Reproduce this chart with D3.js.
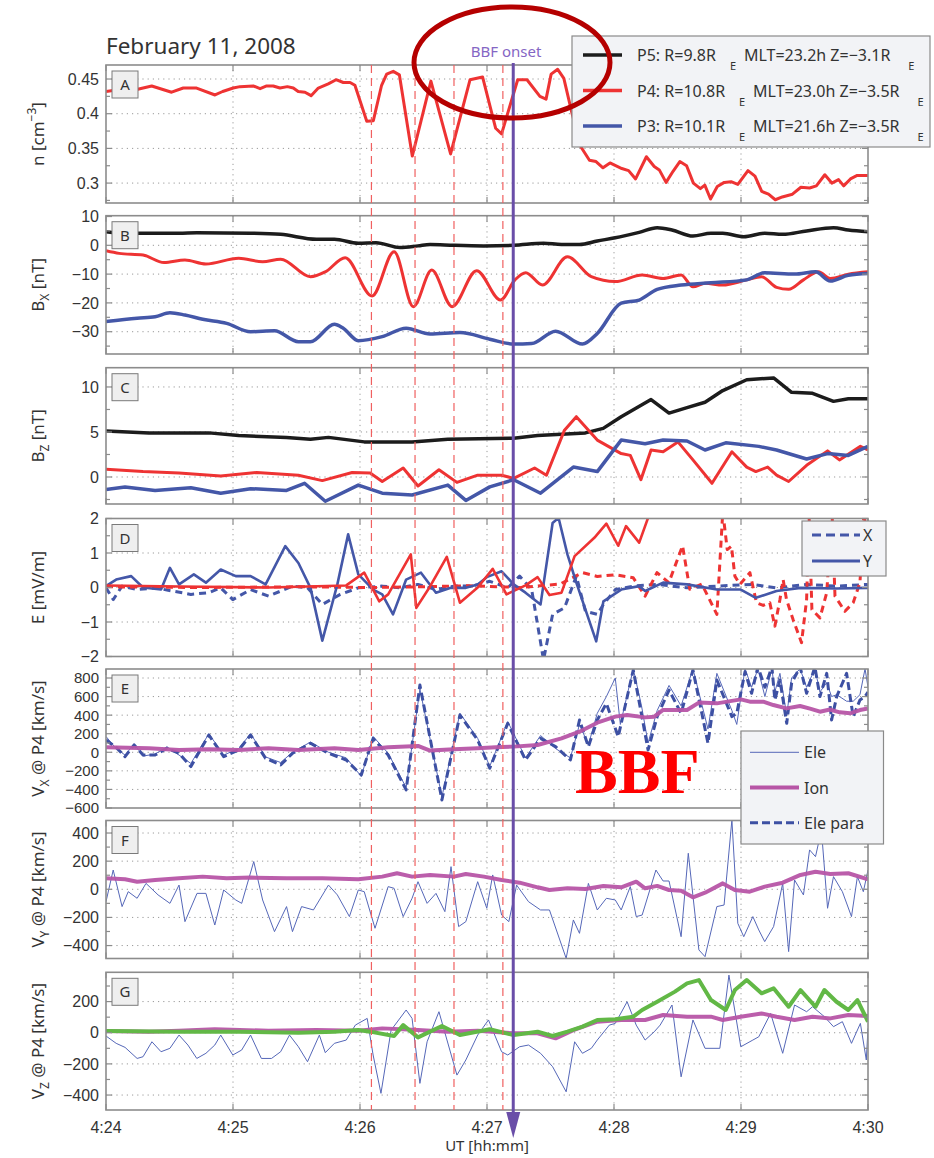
<!DOCTYPE html>
<html><head><meta charset="utf-8">
<script src="https://cdn.jsdelivr.net/npm/d3@7"></script>
<style>body{margin:0;background:#fff}svg{display:block}text{font-family:"Noto Sans","Open Sans",sans-serif;fill:#333}text.tick{font-family:"Liberation Sans",Arial,sans-serif}</style>
</head><body><svg id="c" width="934" height="1158"></svg>
<script>
// ---------------- DATA (time = seconds after 4:24:00 UT) ----------------
const xTickSec = [0,60,120,180,240,300,360];
const xTickLabels = ["4:24","4:25","4:26","4:27","4:28","4:29","4:30"];
const eventSec = [125.4,146,164.4,187.5];
const onsetSec = 192.4;

// Panel A: density P4
const nP4_t = [0,6.6,14.5,21.6,31,36.5,42.8,51.5,55.1,60.1,63.3,69.6,72.8,75.9,79,82.2,85.7,88.5,90.8,94,96.9,100.3,105,108.7,112.1,115.3,117.6,123.2,126.3,130.2,132.6,135.7,138.6,144.7,153.5,162.8,172,177.9,184.1,186.9,194.5,198.9,205,207.9,210.3,213.4,216.3,220.2,224.4,228.4,231.5,234.8,238.1,243.7,246.9,250.2,255.3,259,261.4,264.6,267.9,271.1,274.3,277.5,280.8,282.9,285.6,288.8,292.1,295.3,298.5,303.3,306.6,309.8,313,316.2,319.5,324.3,328.3,332.4,335.6,339.6,342.9,346.1,348.5,351.7,354.9,358.9,360];
const nP4_v = [0.432,0.435,0.435,0.440,0.431,0.437,0.437,0.427,0.432,0.437,0.439,0.440,0.436,0.440,0.440,0.437,0.439,0.437,0.432,0.431,0.426,0.437,0.443,0.449,0.445,0.445,0.441,0.389,0.390,0.441,0.457,0.461,0.456,0.339,0.447,0.342,0.449,0.453,0.379,0.371,0.449,0.449,0.425,0.421,0.457,0.464,0.451,0.40,0.352,0.333,0.331,0.322,0.329,0.321,0.318,0.306,0.338,0.324,0.319,0.301,0.317,0.331,0.325,0.300,0.292,0.297,0.277,0.295,0.301,0.302,0.298,0.318,0.310,0.288,0.284,0.276,0.280,0.284,0.294,0.293,0.296,0.312,0.300,0.305,0.296,0.306,0.311,0.311,0.311];

// Panel B: Bx
const bxP5_t = [0,6.2,34.5,42.9,68.3,82.5,99.4,107.9,119.2,127.6,138.9,147.4,153.1,164.4,178.5,192.6,206.7,215.2,223.7,232.1,240.6,251.9,260.4,267.4,277.3,285.8,291.4,301.3,311.2,319.7,331,343.7,350.7,360];
const bxP5_v = [4.7,4.2,4.2,4.4,4.2,3.8,2.1,2.1,0.7,0.9,-0.8,-0.2,0.3,0,-0.2,0,0.7,0.3,0.3,1.5,2.6,4.5,6.1,5.3,3.2,4.2,4.2,3.0,4.2,3.8,5.0,6.1,5.3,4.7];
const bxP4_t = [0,6.2,17.5,27.4,37.3,47.2,62.7,74,82.5,96.6,103.6,113,125.7,136.1,145.2,153.9,163.5,175.1,186.4,193.2,198.3,206.2,218,229.3,240.6,253.3,263.2,271.7,277.3,283,291.4,302.7,309.7,316.8,322.5,329.5,336.6,342.2,350.7,360];
const bxP4_v = [-1.9,-2.8,-3.4,-6.0,-5.1,-6.5,-4.5,-5.7,-4.8,-10.9,-9.2,-4.3,-17.6,-2.2,-21.3,-8.6,-21.3,-8.8,-19.0,-12.0,-9.5,-13.8,-4.0,-10.9,-12.6,-10.3,-11.5,-10.3,-14.4,-13.2,-13.8,-12.0,-10.9,-14.6,-15.3,-12.0,-9.2,-11.5,-10.0,-9.2];
const bxP3_t = [0,14.7,23.2,30.2,37.3,45.7,57,68.3,79.6,90.9,96.6,107.9,112.1,119.2,130.5,141.8,153.1,167.2,181.3,192.6,201.1,212.4,225.1,232.1,243.4,251.9,260.4,271.7,285.8,302.7,311.2,325.3,335.2,342.2,350.7,360];
const bxP3_v = [-26.5,-25.3,-24.8,-23.4,-24.2,-25.7,-27.1,-30.0,-29.7,-33.5,-33.5,-27.4,-28.8,-33.1,-31.7,-28.8,-30.8,-30.3,-32.6,-34.3,-34.1,-29.8,-34.3,-30.6,-20.1,-19.0,-15.3,-13.8,-13.0,-12.0,-9.5,-10.0,-9.2,-12.4,-10.4,-9.8];

// Panel C: Bz
const bzP5_t = [0,20.3,48.6,62.7,85.3,96.6,105.1,122,144.6,161.5,192.6,203.9,226.5,234.9,243.4,257.5,266,274.5,283,291.4,302.7,315.4,323.9,333.8,343.7,350.7,360];
const bzP5_v = [5.1,4.9,4.9,4.6,4.4,4.2,4.4,3.9,3.9,4.2,4.3,4.6,4.9,5.4,6.7,8.6,7.1,7.7,8.3,9.6,10.8,11.0,9.4,9.3,8.4,8.7,8.7];
const bzP4_t = [0,17.5,34.5,54.2,71.2,90.9,102.2,116.3,124.8,130.5,140.4,147.4,157.3,165.8,175.6,186.9,192.6,202.5,208.1,216.6,222.2,232.1,243.4,247.7,252.7,257.5,263.2,270.2,277.3,286.3,295.7,302.7,307,312.6,316.8,322.5,331,340.9,346.5,356.4,360];
const bzP4_v = [0.85,0.6,0.45,0.1,0.5,0.2,-0.4,0.5,0.45,-0.5,1.0,-1.0,0.8,-0.6,0.2,0.2,-0.15,1.0,0.2,5.2,6.7,4.1,2.6,2.4,-0.3,3.0,2.8,3.9,1.9,-0.7,2.8,1.1,0.6,1.1,0.2,-0.5,1.3,2.9,1.9,3.4,3.0];
const bzP3_t = [0,9,23.2,40.1,54.2,68.3,85.3,93.8,103.6,119.2,130.5,144.6,161.5,170,181.3,192.6,205.3,220.8,232.1,243.4,254.7,263.2,274.5,283,292.8,308.4,316.8,331,340.9,350.7,360];
const bzP3_v = [-1.4,-1.1,-1.5,-1.2,-1.8,-1.3,-1.5,-0.7,-2.7,-0.9,-1.8,-2.0,-0.9,-2.6,-1.1,-0.3,-1.8,1.1,0.6,4.1,3.7,4.1,4.0,3.0,3.8,3.4,3.0,2.0,2.6,2.4,3.4];

// Panel D: E field (Y solid, X dashed)
const eyP4_t = [0,34.5,76.8,113.5,122,129.1,133.3,144,146.6,153.1,161,167.2,175.6,182.7,189.2,198.2,203.9,209.5,215.2,221.4,230.7,236.4,242,245.7,251.9,256.1,263.2,360];
const eyP4_v = [0.06,0.03,0.0,0.06,0.43,-0.4,-0.2,0.96,-0.59,0.03,0.89,-0.44,0.0,0.54,-0.2,0.06,0.3,-0.22,-0.15,0.91,1.44,1.85,1.21,1.78,1.3,2.02,2.6,2.8];
const exP4_t = [0,44.4,91.6,124.7,148.3,171.9,195.6,214.5,225.1,232.1,240.6,249.1,254.7,260.3,265.9,272.4,275.8,281.5,288.6,291.4,293.5,295.5,297.1,299.5,304.2,307.3,310.5,313.6,316,318.4,319.9,321.5,324.6,328.6,331,332.1,333.5,337.3,340.5,343,344.4,349.1,353,356.2,358.1,360];
const exP4_v = [0.02,0.0,0.02,0.0,0.02,0.05,0.0,0.1,0.43,0.32,0.37,0.28,-0.25,0.43,0.14,1.21,-0.05,0.1,-0.78,2.2,1.1,1.2,0.33,0.09,0.43,-0.44,-0.52,-0.44,-1.12,-0.35,0.23,-0.35,-0.93,-1.6,-0.35,2.2,-0.64,-0.88,-0.15,2.2,-0.25,-0.69,-0.44,0.14,2.2,1.0];
const eyP3_t = [0,4.8,11.9,17.5,26,30.2,34.5,41.5,47.2,54.2,61.3,68.3,75.4,84.7,90.9,96.6,102.2,109.3,114.4,119.2,126.2,130.5,135.6,141.8,148.8,155.9,162.9,170,175.6,179.9,186.9,192.6,198.2,205.3,211,213.8,218,222.2,231.6,235,243.4,251.9,254.7,263.2,274.5,288.6,299.9,307,316.8,328.1,345.1,360];
const eyP3_v = [0.04,0.23,0.33,0.0,-0.06,0.57,0.09,0.38,0.14,0.52,0.33,0.33,0.09,1.2,0.71,-0.01,-1.54,0.09,1.54,0.38,-0.06,-0.2,-0.78,0.23,0.43,-0.15,-0.01,-0.01,0.09,0.3,0.47,0.09,-0.15,-0.49,1.87,2.02,0.96,0.14,-1.56,-0.4,-0.06,0.04,-0.1,0.14,0.09,-0.06,-0.06,-0.3,-0.1,-0.01,-0.03,-0.01];
const exP3_t = [0,3.4,7.6,14.7,23.2,40.1,48.6,54.2,59.9,68.3,76.8,88.1,95.2,102.2,110.7,119.2,130.5,138.9,147.4,155.9,164.4,172.8,181.3,189.8,195.4,201.1,206.7,211,216.6,222.2,226.5,232.1,235,240.6,249.1,260.4,274.5,288.6,305.6,316.8,331,345.1,360];
const exP3_v = [-0.01,-0.35,0.04,-0.06,-0.01,-0.2,-0.15,-0.01,-0.35,-0.06,-0.25,0.04,-0.01,-0.49,-0.2,-0.01,0.04,-0.01,0.09,-0.06,0.04,0.04,0.18,-0.01,0.33,-0.06,-2.1,-0.78,-0.59,0.33,-0.69,-0.78,-0.49,-0.06,0.04,0.09,-0.01,0.04,0.09,-0.01,0.09,0.04,0.09];

// Panel E: Vx at P4
const vxIon_t = [0,20.3,34.5,48.6,62.7,76.8,90.9,107.9,119.2,133.3,147.4,153.1,164.4,175.6,184.1,192.6,203.9,215.2,223.7,232.1,240.6,246.2,254.7,259,263.2,274.5,280.1,288.6,299.9,304.2,310.5,315.3,321.5,327.9,332.6,337.3,342,346.7,351.5,356.2,360];
const vxIon_v = [53,43,25,32,25,43,25,43,25,53,68,18,32,43,53,61,79,150,222,319,384,401,376,384,456,456,535,527,570,545,545,509,473,498,470,437,460,430,420,455,473];
const vxPara_t = [0,4.8,9,13.3,17.5,23.2,28.8,34.5,40.1,48.6,55.6,62.7,68.3,75.4,82.5,88.1,96.6,105.1,113.5,120.6,126.2,133.3,141.8,148.3,158.7,167.2,175.6,181.3,189.8,198.2,205.3,212.4,219.4,223.7,227.9,232.1,236.4,242,249.1,256.1,260.4,266,271.7,277.3,284.4,288.6,295.7,298,301.9,305,308,311.3,314.6,316,318.4,321.6,323.9,327.9,331,334.9,337.3,340.5,342.8,345.2,349.9,353,356.2,358.6,360];
const vxPara_v = [132,53,-47,79,-29,-29,43,-11,-154,186,-47,25,186,-65,-136,-11,97,-11,-83,-244,150,-29,-405,724,-513,401,132,-172,312,-83,150,61,-83,348,61,348,527,168,886,25,384,670,420,886,97,778,384,420,868,635,920,700,920,563,778,312,743,920,635,920,600,850,348,599,850,383,563,599,650];
const vxEle_t = [0,4.8,9,13.3,17.5,23.2,28.8,34.5,40.1,48.6,55.6,62.7,68.3,75.4,82.5,88.1,96.6,105.1,113.5,120.6,126.2,133.3,141.8,148.3,158.7,167.2,175.6,181.3,189.8,198.2,205.3,212.4,219.4,223.7,227.9,232.1,236.4,240.6,243,249.1,253,256.1,260.4,266,271.7,277.3,284.4,288.6,295.7,298,301.9,305,308,311.3,314.6,316,318.4,321.6,323.9,327.9,331,334.9,337.3,340.5,342.8,345.2,349.9,353,356.2,358.6,360];
const vxEle_v = [170,40,-30,90,-40,-20,60,-30,-120,200,-30,40,200,-50,-110,0,110,0,-60,-260,170,-10,-380,680,-480,420,150,-150,330,-60,180,40,-60,300,80,420,600,800,300,900,500,100,450,720,500,900,250,850,450,300,900,700,900,600,900,650,850,400,800,900,700,900,650,750,600,620,550,550,620,900,700];

// Panel F: Vy at P4
const vyIon_t = [0,9,14.7,23.2,34.5,45.7,57,68.3,85.3,102.2,119.2,130.5,137.5,144.6,153.1,164.4,170,178.5,186.9,195.4,203.9,209.5,218,226.5,235,243.4,250.5,254.7,260.4,266,271.7,277.3,283,291.4,297.1,304.1,311.2,319.7,328.1,335.2,342.2,350.7,360];
const vyIon_v = [78,71,54,66,78,90,78,83,78,78,71,90,114,90,102,90,109,90,66,47,14,-5,7,2,24,14,54,7,24,-5,-10,-57,-24,42,-5,-17,19,47,102,125,109,114,71];
const vyEle_t = [0,3.4,7.6,10.5,14.7,18.9,24.6,30.2,34.5,37.3,43,47.2,51.4,55.6,61.3,64.1,69.8,74,79.6,85.3,88.1,92.4,98,105.1,109.3,115,119.2,122,127.1,133.3,136.1,140.4,144.6,147.4,151.7,155.9,160.1,163,166.6,170,175.6,179.9,182.7,186.9,190.3,194,199.6,205.3,209.5,217.4,220.8,223.7,227.9,232.1,236.4,240.6,243.4,247.7,250.5,253.3,259.8,263.2,266,271.7,275.1,280.1,283,288.6,292,295.7,298.5,301.3,305.6,308.4,311.2,315.4,319.7,322.5,325.3,329.5,332.4,335.2,338,340.9,343.7,347.9,352.2,355,357.8,360];
const vyEle_v = [-88,137,-123,-17,-64,42,-40,-100,30,-230,-29,-29,-254,-5,-76,-100,197,-76,-301,-123,-301,-123,-147,30,-40,-194,-5,-17,-277,19,7,-194,-64,54,-100,-29,-159,161,-265,-230,54,-135,102,-183,-230,30,-88,-147,-147,-491,-218,-313,42,-147,-64,-76,-147,19,-194,-183,137,59,59,-337,256,-431,-479,-123,-112,493,-242,-337,-194,-289,-372,-265,42,-443,66,-40,280,232,422,-135,90,-17,-194,90,-17,137];

// Panel G: Vz at P4
const vzGreen_t = [0,34.5,62.7,90.9,107.9,119.2,124.8,136.1,140.4,147.4,158.7,167.2,181.3,192.6,203.9,211,218,225.1,232.1,240.6,249.1,253.3,260.4,268.8,274.5,280.1,285.8,292.8,297.1,302.7,309.7,315.4,322.5,328.1,335.2,339.4,345.1,350.7,355,360];
const vzGreen_v = [11,7,7,0,7,17,7,-21,49,-30,43,-15,22,-15,7,-21,7,39,82,86,103,146,199,264,317,338,210,146,274,338,253,285,167,274,167,274,199,146,210,71];
const vzIon_t = [0,20.3,34.5,51.4,76.8,99.4,119.2,130.5,147.4,161.5,175.6,192.6,203.9,212.4,220.8,232.1,243.4,254.7,263.2,274.5,285.8,291.4,299.9,309.7,316.8,325.3,333.8,342.2,350.7,360];
const vzIon_v = [11,7,13,22,13,17,13,28,17,7,13,-4,-4,-36,17,71,82,82,114,103,103,82,103,124,103,82,103,92,114,107];
const vzEle_t = [0,4.8,9,14.7,17.5,21.7,26,30.2,34.5,38.7,42.9,47.2,51.4,54.2,59.9,64.1,68.3,73.4,78.2,82.5,86.7,90.9,95.2,100.8,103.6,107.9,113.5,117.8,123.4,126.2,129.9,134.7,141.8,144.6,148.3,151.7,157.3,165.8,170,175.6,180.7,186.9,189.8,195.4,199.6,205.3,211,217.4,221.4,225.1,229.3,232.1,237.8,240.6,246.2,250.5,254.7,259,261.8,267.4,271.7,277.3,283,290,294.3,299.9,305.6,308.4,314,319.7,325.3,331,333.8,339.4,343.7,347.9,352.2,356.4,359.2,360];
const vzEle_v = [-21,-68,-94,-165,-154,-58,-122,-100,-15,-79,-165,-132,-79,-15,-143,-111,-15,-165,-165,-122,-15,-90,-186,-15,-128,-68,-47,49,92,-143,-389,17,146,92,-325,-58,135,-272,-175,-15,82,-122,-143,-90,-79,-132,-218,-379,-58,-132,-100,-47,49,60,199,49,-47,6,49,178,-283,82,-100,-100,370,-90,-47,-26,124,-132,178,135,167,103,39,71,-68,60,-175,28];

// tick values
const yTicksA = [0.3,0.35,0.4,0.45], yMinorA = [0.275,0.325,0.375,0.425];
const yTicksB = [-30,-20,-10,0,10], yMinorB = [-35,-25,-15,-5,5];
const yTicksC = [0,5,10], yMinorC = [-2.5,2.5,7.5];
const yTicksD = [-2,-1,0,1,2], yMinorD = [-1.5,-0.5,0.5,1.5];
const yTicksE = [-600,-400,-200,0,200,400,600,800], yMinorE = [-500,-300,-100,100,300,500,700];
const yTicksF = [-400,-200,0,200,400], yMinorF = [-300,-100,100,300];
const yTicksG = [-400,-200,0,200], yMinorG = [-300,-100,100,300];

const legendA = [
  {name:"P5: R=9.8R", sub:"E", rest:"MLT=23.2h Z=\u22123.1R", color:"#1c1c1c"},
  {name:"P4: R=10.8R", sub:"E", rest:"MLT=23.0h Z=\u22123.5R", color:"#ee3333"},
  {name:"P3: R=10.1R", sub:"E", rest:"MLT=21.6h Z=\u22123.5R", color:"#4457a8"}
];
const legendD = ["X","Y"];
const legendE = ["Ele","Ion","Ele para"];

// ---------------- DRAWING ----------------
const svg = d3.select("#c");
const X0 = 106, X1 = 868;
const x = d3.scaleLinear().domain([0,360]).range([X0,X1]);
const zip = (t,v)=>t.map((d,i)=>[d,v[i]]);
const fmt = v => String(v).replace("-", "\u2212");

const COL = {black:"#1c1c1c", red:"#ee3333", blue:"#4457a8", mag:"#b755a6", green:"#62b846", thin:"#5567b8"};

const panels = [
 {id:"A", top:65, bot:203, dom:[0.2713,0.4702], ticks:yTicksA, minor:yMinorA,
  title:[["n [cm",0],["\u22123",-1],["]",0]], curve:d3.curveLinear,
  series:[{d:zip(nP4_t,nP4_v), c:COL.red, w:3}]},
 {id:"B", top:215.7, bot:354, dom:[-37.74,10.28], ticks:yTicksB, minor:yMinorB,
  title:[["B",0],["X",1],[" [nT]",0]], curve:d3.curveMonotoneX,
  series:[{d:zip(bxP5_t,bxP5_v), c:COL.black, w:3.5},{d:zip(bxP4_t,bxP4_v), c:COL.red, w:3},{d:zip(bxP3_t,bxP3_v), c:COL.blue, w:3.5}]},
 {id:"C", top:367.7, bot:504, dom:[-3.0,12.14], ticks:yTicksC, minor:yMinorC,
  title:[["B",0],["Z",1],[" [nT]",0]], curve:d3.curveLinear,
  series:[{d:zip(bzP5_t,bzP5_v), c:COL.black, w:3.5},{d:zip(bzP4_t,bzP4_v), c:COL.red, w:3},{d:zip(bzP3_t,bzP3_v), c:COL.blue, w:3.5}]},
 {id:"D", top:518.5, bot:656.5, dom:[-2,2], ticks:yTicksD, minor:yMinorD,
  title:[["E [mV/m]",0]], curve:d3.curveLinear,
  series:[{d:zip(exP3_t,exP3_v), c:COL.blue, w:3, dash:"7,5"},{d:zip(exP4_t,exP4_v), c:COL.red, w:3, dash:"7,5"},
          {d:zip(eyP3_t,eyP3_v), c:COL.blue, w:2.6},{d:zip(eyP4_t,eyP4_v), c:COL.red, w:2.6}]},
 {id:"E", top:669, bot:808, dom:[-600,897], ticks:yTicksE, minor:yMinorE,
  title:[["V",0],["X",1],[" @ P4 [km/s]",0]], curve:d3.curveLinear,
  series:[{d:zip(vxEle_t,vxEle_v), c:COL.thin, w:1},{d:zip(vxPara_t,vxPara_v), c:"#3d50a3", w:3, dash:"8,4"},{d:zip(vxIon_t,vxIon_v), c:COL.mag, w:4}]},
 {id:"F", top:820.5, bot:958.5, dom:[-492,489], ticks:yTicksF, minor:yMinorF,
  title:[["V",0],["Y",1],[" @ P4 [km/s]",0]], curve:d3.curveLinear,
  series:[{d:zip(vyEle_t,vyEle_v), c:COL.thin, w:1},{d:zip(vyIon_t,vyIon_v), c:COL.mag, w:4}]},
 {id:"G", top:972.3, bot:1110, dom:[-496,388], ticks:yTicksG, minor:yMinorG,
  title:[["V",0],["Z",1],[" @ P4 [km/s]",0]], curve:d3.curveLinear,
  series:[{d:zip(vzEle_t,vzEle_v), c:COL.thin, w:1},{d:zip(vzIon_t,vzIon_v), c:COL.mag, w:4},{d:zip(vzGreen_t,vzGreen_v), c:COL.green, w:4}]}
];

const defs = svg.append("defs");

panels.forEach((p)=>{
  const y = d3.scaleLinear().domain(p.dom).range([p.bot,p.top]);
  const g = svg.append("g");
  defs.append("clipPath").attr("id","clip"+p.id).append("rect")
    .attr("x",X0).attr("y",p.top).attr("width",X1-X0).attr("height",p.bot-p.top);
  // grid
  const grid = g.append("g").attr("stroke","#9a9a9a").attr("stroke-width",1).attr("stroke-dasharray","1.2,4");
  xTickSec.slice(1,-1).forEach(s=>grid.append("line").attr("x1",x(s)).attr("x2",x(s)).attr("y1",p.top).attr("y2",p.bot));
  p.ticks.forEach(v=>{ const yy=y(v); if(yy>p.top+2 && yy<p.bot-2) grid.append("line").attr("x1",X0).attr("x2",X1).attr("y1",yy).attr("y2",yy);});
  // series
  const lg = g.append("g").attr("clip-path","url(#clip"+p.id+")");
  p.series.forEach(s=>{
    const line = d3.line().x(d=>x(d[0])).y(d=>y(d[1])).curve(p.curve);
    lg.append("path").attr("d",line(s.d)).attr("fill","none").attr("stroke",s.c)
      .attr("stroke-width",s.w).attr("stroke-linejoin","round").attr("stroke-dasharray",s.dash||null)
      .attr("opacity", s.c===COL.mag?0.95:1);
  });
  // frame
  g.append("rect").attr("x",X0).attr("y",p.top).attr("width",X1-X0).attr("height",p.bot-p.top)
    .attr("fill","none").attr("stroke","#8c8c8c").attr("stroke-width",1.6);
  // ticks
  const tk = g.append("g").attr("stroke","#8c8c8c").attr("stroke-width",1.2);
  p.ticks.forEach(v=>{const yy=y(v); if(yy<p.top-1||yy>p.bot+1) return;
    tk.append("line").attr("x1",X0).attr("x2",X0+6).attr("y1",yy).attr("y2",yy);
    tk.append("line").attr("x1",X1-6).attr("x2",X1).attr("y1",yy).attr("y2",yy);});
  p.minor.forEach(v=>{const yy=y(v); if(yy<p.top||yy>p.bot) return;
    tk.append("line").attr("x1",X0).attr("x2",X0+4).attr("y1",yy).attr("y2",yy);
    tk.append("line").attr("x1",X1-4).attr("x2",X1).attr("y1",yy).attr("y2",yy);});
  xTickSec.forEach(s=>{
    tk.append("line").attr("x1",x(s)).attr("x2",x(s)).attr("y1",p.bot).attr("y2",p.bot-6);
    tk.append("line").attr("x1",x(s)).attr("x2",x(s)).attr("y1",p.top).attr("y2",p.top+6);});
  // y tick labels
  const tfs = p.id==="E" ? 15 : 16;
  p.ticks.forEach(v=>{
    g.append("text").attr("class","tick").attr("x",99).attr("y",y(v)).attr("dy","0.36em").attr("text-anchor","end")
      .attr("font-size",tfs).text(fmt(v));
  });
  // panel label box
  g.append("rect").attr("x",X0+6).attr("y",p.top+6).attr("width",26).attr("height",27)
    .attr("fill","#efefef").attr("stroke","#7a7a7a").attr("stroke-width",1);
  g.append("text").attr("x",X0+19).attr("y",p.top+25).attr("text-anchor","middle").attr("font-size",15).text(p.id);
  // axis title
  const cy = (p.top+p.bot)/2;
  const tt = g.append("text").attr("transform",`translate(44,${cy}) rotate(-90)`).attr("text-anchor","middle").attr("font-size",17);
  let prevKind = 0;
  p.title.forEach(([s,k])=>{
    const ts = tt.append("tspan").text(s);
    if(k===1) ts.attr("font-size",12).attr("dy",5);
    else if(k===-1) ts.attr("font-size",12).attr("dy",-8);
    else if(prevKind===1) ts.attr("dy",-5);
    else if(prevKind===-1) ts.attr("dy",8);
    prevKind = k;
  });
});

// x tick labels and title
xTickSec.forEach((s,i)=>svg.append("text").attr("class","tick").attr("x",x(s)).attr("y",1133).attr("text-anchor","middle").attr("font-size",16).text(xTickLabels[i]));
svg.append("text").attr("x",487).attr("y",1151).attr("text-anchor","middle").attr("font-size",15).text("UT [hh:mm]");

// title
svg.append("text").attr("x",106).attr("y",54).attr("font-size",22.5).text("February 11, 2008");

// event lines
eventSec.forEach(s=>svg.append("line").attr("x1",x(s)).attr("x2",x(s)).attr("y1",65).attr("y2",1110)
  .attr("stroke","#f06060").attr("stroke-width",1.2).attr("stroke-dasharray","8,5"));

// legend A
const la = svg.append("g");
la.append("rect").attr("x",572).attr("y",36).attr("width",358).attr("height",111).attr("fill","#f2f3f6").attr("stroke","#8a8a8a").attr("stroke-width",1.2);
legendA.forEach((d,i)=>{
  const yy = 55 + i*35.5;
  la.append("line").attr("x1",583).attr("x2",622).attr("y1",yy).attr("y2",yy).attr("stroke",d.color).attr("stroke-width",3.5);
  const t1 = la.append("text").attr("x",637).attr("y",yy+6).attr("font-size",16).text(d.name);
  const w1 = t1.node().getComputedTextLength();
  la.append("text").attr("x",637+w1+14).attr("y",yy+15).attr("font-size",11).text(d.sub);
  const t2 = la.append("text").attr("x",637+w1+28).attr("y",yy+6).attr("font-size",16).text(d.rest);
  const w2 = t2.node().getComputedTextLength();
  la.append("text").attr("x",637+w1+28+w2+18).attr("y",yy+15).attr("font-size",11).text(d.sub);
});

// legend D
const ld = svg.append("g");
ld.append("rect").attr("x",802).attr("y",521).attr("width",84).attr("height",55).attr("fill","#f2f3f6").attr("stroke","#8a8a8a").attr("stroke-width",1.2);
legendD.forEach((n,i)=>{
  const yy = 535 + i*26;
  ld.append("line").attr("x1",812).attr("x2",860).attr("y1",yy).attr("y2",yy).attr("stroke",COL.blue).attr("stroke-width",3).attr("stroke-dasharray",i===0?"9,5":null);
  ld.append("text").attr("x",863).attr("y",yy+6).attr("font-size",16).text(n);
});

// legend E
const le = svg.append("g");
le.append("rect").attr("x",741).attr("y",731).attr("width",142.5).attr("height",113).attr("fill","#f2f3f6").attr("stroke","#8a8a8a").attr("stroke-width",1.2);
const leStyle = [{c:COL.thin,w:1},{c:COL.mag,w:4},{c:"#3d50a3",w:3,dash:"8,4"}];
legendE.forEach((n,i)=>{
  const yy = 752.3 + i*35.2;
  le.append("line").attr("x1",750).attr("x2",799).attr("y1",yy).attr("y2",yy).attr("stroke",leStyle[i].c).attr("stroke-width",leStyle[i].w).attr("stroke-dasharray",leStyle[i].dash||null);
  le.append("text").attr("x",804).attr("y",yy+6).attr("font-size",16).text(n);
});

// BBF label
svg.append("text").attr("x",575).attr("y",793)
  .style("font-family","'Liberation Serif','Times New Roman',serif")
  .style("font-weight","bold").attr("font-size",64).style("fill","#ff0000").text("BBF");

// onset arrow
const ox = x(onsetSec);
svg.append("line").attr("x1",ox).attr("x2",ox).attr("y1",63).attr("y2",1116).attr("stroke","#6a4ea8").attr("stroke-width",3);
svg.append("path").attr("d",`M${ox-7},1112 L${ox+7},1112 L${ox},1138 Z`).attr("fill","#6a4ea8");
svg.append("text").attr("x",506).attr("y",57).attr("text-anchor","middle").attr("font-size",15).style("fill","#8566c4").text("BBF onset");

// red ellipse
svg.append("ellipse").attr("cx",512).attr("cy",62.5).attr("rx",98).attr("ry",55.5)
  .attr("fill","none").attr("stroke","#b50000").attr("stroke-width",5);
</script></body></html>
